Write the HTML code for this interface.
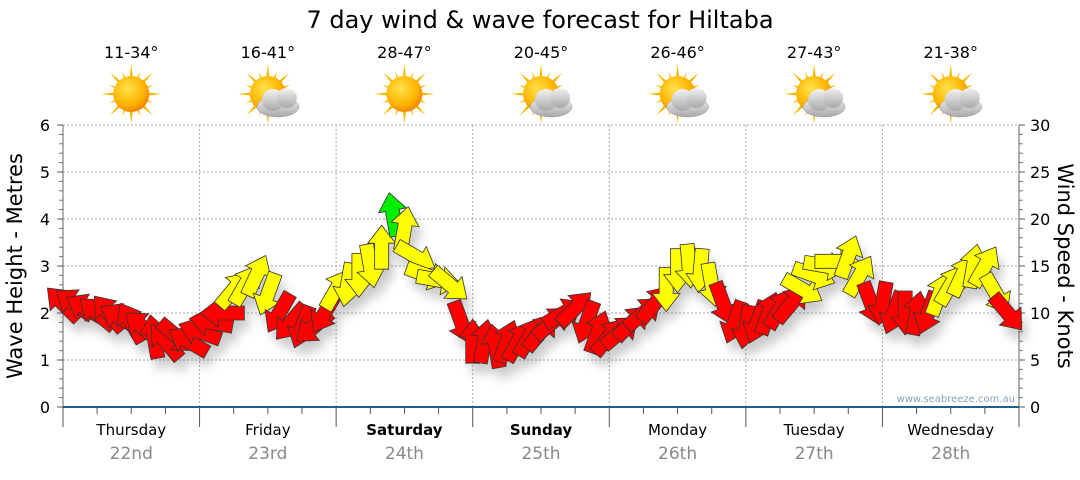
<!DOCTYPE html>
<html><head><meta charset="utf-8"><style>
body{margin:0;background:#fff;font-family:"Liberation Sans",sans-serif;}
svg text{font-family:"DejaVu Sans","Liberation Sans",sans-serif;}
</style></head><body>
<svg id="c" width="1080" height="475" xmlns="http://www.w3.org/2000/svg">
<defs>
<radialGradient id="sunG" cx="40%" cy="35%" r="65%"><stop offset="0" stop-color="#ffe24a"/><stop offset="0.7" stop-color="#ffb300"/><stop offset="1" stop-color="#f08a00"/></radialGradient>
<linearGradient id="cloudG" x1="0" y1="0" x2="0" y2="1"><stop offset="0" stop-color="#f2f2f2"/><stop offset="1" stop-color="#a8a8a8"/></linearGradient>
<filter id="sh" x="-50%" y="-50%" width="200%" height="200%"><feGaussianBlur stdDeviation="5"/></filter>
</defs>
<text x="540" y="28" text-anchor="middle" font-size="24" fill="#000">7 day wind &amp; wave forecast for Hiltaba</text>
<g id="grid"></g><g id="axes"></g><g id="icons"></g><g id="marks"></g>
<text x="1015" y="402" text-anchor="end" font-size="10" fill="#8aa0b8">www.seabreeze.com.au</text>
<text transform="translate(22,266) rotate(-90)" text-anchor="middle" font-size="21">Wave Height - Metres</text>
<text transform="translate(1058,266) rotate(90)" text-anchor="middle" font-size="21">Wind Speed - Knots</text>
</svg>
<script>
const days=["Thursday","Friday","Saturday","Sunday","Monday","Tuesday","Wednesday"];
const dates=["22nd","23rd","24th","25th","26th","27th","28th"];
const boldDays=[false,false,true,true,false,false,false];
const temps=["11-34°","16-41°","28-47°","20-45°","26-46°","27-43°","21-38°"];
const cloudy=[false,true,false,true,true,true,true];
const leftTicks=[0,1,2,3,4,5,6];
const rightTicks=[0,5,10,15,20,25,30];
const windSpeed=[11,11,10.5,10,10,9.5,9,8.5,7.5,7,7.5,7,
8,9,10,12.5,13,14,12,10,9,8.5,8.5,10,
12.5,13,14,15,17,20.5,19,16,14,13.5,13,9,
7,7,6.5,7,7,7.5,8,9,10,10.5,9,8,
7.5,8,9,10,11,12.5,14.5,15,14.5,13,11,9,
8.5,9,10,10.5,11,12.5,14,15,15.5,16,14,11,
11,10,10,10,10,12,13,14,15,15,12,10];
const windDir=[315,305,300,310,320,300,330,310,350,320,130,300,
290,280,270,40,30,25,200,210,220,200,230,210,
30,190,180,170,0,350,10,120,110,100,130,160,
0,10,350,20,30,30,40,50,60,45,200,20,
40,50,45,50,40,180,180,175,185,170,160,200,
190,200,20,30,40,120,110,100,90,20,30,160,
190,200,180,10,200,20,30,25,10,30,150,140];
const X0=63,X1=1019,Y0=407,Y1=125;
const dayW=(X1-X0)/7;
const NS="http://www.w3.org/2000/svg";
function mk(t,a,p){const e=document.createElementNS(NS,t);for(const k in a)e.setAttribute(k,a[k]);p.appendChild(e);return e;}
const xT=h=>X0+h/24*dayW;
const yL=v=>Y0-v/6*(Y0-Y1);
const yR=v=>Y0-v/30*(Y0-Y1);
const grid=document.getElementById('grid'),axes=document.getElementById('axes'),icons=document.getElementById('icons'),marks=document.getElementById('marks');
leftTicks.forEach(v=>{if(v>0){const l=mk('line',{x1:X0,x2:X1,y1:yL(v),y2:yL(v),stroke:'#aaa','stroke-dasharray':'2,2'},grid);

}
const t=mk('text',{x:50,y:yL(v)+6,'text-anchor':'end','font-size':16},axes);t.textContent=v;


mk('line',{x1:X0-6,x2:X0,y1:yL(v),y2:yL(v),stroke:'#555'},axes);
if(v<6)for(let k=1;k<5;k++)mk('line',{x1:X0-4,x2:X0,y1:yL(v+k/5),y2:yL(v+k/5),stroke:'#777'},axes);});
rightTicks.forEach(v=>{const t=mk('text',{x:1030,y:yR(v)+6,'font-size':16},axes);t.textContent=v;


mk('line',{x1:X1,x2:X1+6,y1:yR(v),y2:yR(v),stroke:'#555'},axes);
if(v<30)for(let k=1;k<5;k++)mk('line',{x1:X1,x2:X1+4,y1:yR(v+k),y2:yR(v+k),stroke:'#777'},axes);});
mk('line',{x1:X0,x2:X0,y1:Y1,y2:Y0,stroke:'#666'},axes);
mk('line',{x1:X1,x2:X1,y1:Y1,y2:Y0,stroke:'#666'},axes);
mk('line',{x1:X0,x2:X1,y1:Y0,y2:Y0,stroke:'#1f5f8f','stroke-width':2},axes);
for(let h=0;h<=168;h+=6){mk('line',{x1:xT(h),x2:xT(h),y1:Y0,y2:Y0+(h%24==0?20:7),stroke:'#555'},axes);}
days.forEach((d,i)=>{const cx=xT(i*24+12);
if(i>0){const g=mk('line',{x1:xT(i*24),x2:xT(i*24),y1:Y1,y2:Y0,stroke:'#aaa','stroke-dasharray':'2,2'},grid);

}
const t=mk('text',{x:cx,y:435,'text-anchor':'middle','font-size':15,'font-weight':boldDays[i]?'bold':'normal'},axes);t.textContent=d;


const t2=mk('text',{x:cx,y:459,'text-anchor':'middle','font-size':17,fill:'#888'},axes);t2.textContent=dates[i];


const tt=mk('text',{x:cx,y:58,'text-anchor':'middle','font-size':16},icons);tt.textContent=temps[i];


const g=mk('g',{transform:`translate(${cx},94)`},icons);


for(let a=0;a<16;a++){const r=a%2?24:30;mk('polygon',{points:`-3.5,0 3.5,0 0,${-r}`,fill:'#f5b800',transform:`rotate(${a*22.5})`},g);}
mk('circle',{r:18,fill:'url(#sunG)'},g);
if(cloudy[i]){const c=mk('g',{transform:'translate(10,8)'},g);
mk('ellipse',{cx:0,cy:5,rx:21,ry:10,fill:'url(#cloudG)',stroke:'#999','stroke-width':0.5},c);
mk('circle',{cx:-5,cy:-2,r:11,fill:'url(#cloudG)'},c);mk('circle',{cx:9,cy:-4,r:10,fill:'url(#cloudG)'},c);}
});
const shp="0,-22 14,-4 7,-4 7,22 -7,22 -7,-4 -14,-4";
const sg=mk('g',{filter:'url(#sh)',opacity:0.3},marks);
windSpeed.forEach((v,i)=>{mk('polygon',{points:shp,fill:'#555',transform:`translate(${xT(i*2)+5},${yR(v)+10}) rotate(${windDir[i]})`},sg);});
windSpeed.forEach((v,i)=>{const col=v>=20?'#00ee00':(v>=12?'#ffff00':'#ff0000');
const p=mk('polygon',{points:shp,fill:col,stroke:'#333','stroke-width':0.8,transform:`translate(${xT(i*2)},${yR(v)}) rotate(${windDir[i]})`},marks);

});
</script>
</body></html>
